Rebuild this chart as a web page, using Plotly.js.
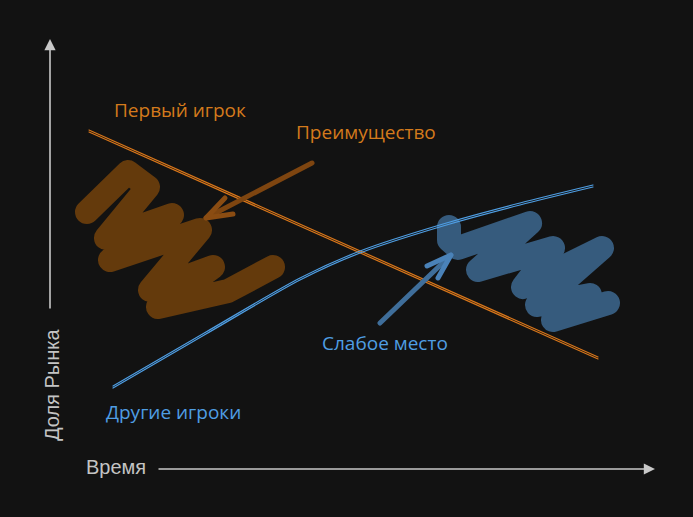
<!DOCTYPE html>
<html>
<head>
<meta charset="utf-8">
<script src="https://cdn.plot.ly/plotly-3.0.1.min.js"></script>
<style>
html,body{margin:0;padding:0;background:#121212;}
#chart .scatterlayer .js-line{stroke-linecap:round;stroke-linejoin:round;}
</style>
</head>
<body>
<div id="chart" style="width:693px;height:517px;"></div>
<script>
// Canvas units follow the picture (x right, y down)
const firstPlayerX = [89, 598];
const firstPlayerY = [131, 358];
const otherPlayersX = [113, 206, 300, 360, 443, 520, 593];
const otherPlayersY = [387, 333, 279, 252, 225, 204, 186];

const advantageScribbleX = [87, 128, 148, 106, 172, 110, 200, 150, 213, 158, 228, 273];
const advantageScribbleY = [212, 172, 187, 238, 215, 260, 230, 290, 267, 307, 291, 267];
const weakScribbleX = [449, 449, 458, 530, 478, 553, 523, 602, 537, 590, 553, 608];
const weakScribbleY = [227, 240, 248, 223, 270, 248, 287, 248, 305, 295, 320, 303];

const advArrowX = [312, 206];
const advArrowY = [163, 218];
const advHeadX = [225, 206, 233];
const advHeadY = [198, 218, 214];
const weakArrowX = [380, 451];
const weakArrowY = [323, 255];
const weakHeadX = [427, 451, 438];
const weakHeadY = [266, 255, 278];

const labelTexts = ['Первый игрок', 'Преимущество', 'Слабое место', 'Другие игроки'];
const labelX = [180, 366, 385, 173];
const labelY = [110, 132, 343, 412];
const labelColors = ['#d47a1c', '#d47a1c', '#4f9ee3', '#4f9ee3'];

const axisYLabel = 'Доля Рынка';
const axisXLabel = 'Время';

const ORANGE = '#d8761a';
const BLUE = '#4f9ee3';

function line(x, y, color, width, shape) {
  return {type:'scatter', mode:'lines', x:x, y:y, hoverinfo:'skip',
    line:{color:color, width:width, shape:shape || 'linear', smoothing:0.8}};
}
function shift(arr, d){ return arr.map(v => v + d); }

const traces = [
  line(advantageScribbleX, advantageScribbleY, '#643a0c', 24),
  line(weakScribbleX, weakScribbleY, '#365b7d', 24),
  line(firstPlayerX, shift(firstPlayerY, -1), ORANGE, 1.2),
  line(firstPlayerX, shift(firstPlayerY, 1), ORANGE, 1.2),
  line(otherPlayersX, shift(otherPlayersY, -1), BLUE, 1.2, 'spline'),
  line(otherPlayersX, shift(otherPlayersY, 1), BLUE, 1.2, 'spline'),
  line(advArrowX, advArrowY, '#7e4510', 5),
  line(advHeadX, advHeadY, '#8a4c12', 5),
  line(weakArrowX, weakArrowY, '#3f6e9a', 5),
  line(weakHeadX, weakHeadY, '#4a82b8', 5)
];

const annotations = labelTexts.map((t, i) => ({
  x: labelX[i], y: labelY[i], xref:'x', yref:'y', text:t, showarrow:false,
  font:{family:'Open Sans, Noto Sans, sans-serif', size:19, color:labelColors[i]}
}));
annotations.push({x:52, y:385, xref:'x', yref:'y', text:axisYLabel, textangle:-90, showarrow:false,
  font:{family:'Liberation Sans, Arial, sans-serif', size:20, color:'#c4c4c4'}});
annotations.push({x:116, y:467, xref:'x', yref:'y', text:axisXLabel, showarrow:false,
  font:{family:'Liberation Sans, Arial, sans-serif', size:20, color:'#c4c4c4'}});
// axis arrows
annotations.push({x:50, y:39, ax:50, ay:310, xref:'x', yref:'y', axref:'x', ayref:'y', text:'',
  showarrow:true, arrowhead:2, arrowsize:1.4, arrowwidth:1.6, arrowcolor:'#c8c8c8'});
annotations.push({x:655, y:469, ax:157, ay:469, xref:'x', yref:'y', axref:'x', ayref:'y', text:'',
  showarrow:true, arrowhead:2, arrowsize:1.4, arrowwidth:1.6, arrowcolor:'#c8c8c8'});

const layout = {
  width:693, height:517, margin:{l:0, r:0, t:0, b:0},
  paper_bgcolor:'#121212', plot_bgcolor:'#121212', showlegend:false,
  xaxis:{range:[0,693], visible:false, fixedrange:true},
  yaxis:{range:[517,0], visible:false, fixedrange:true},
  annotations:annotations
};
Plotly.newPlot('chart', traces, layout, {staticPlot:true, displayModeBar:false});
</script>
</body>
</html>
